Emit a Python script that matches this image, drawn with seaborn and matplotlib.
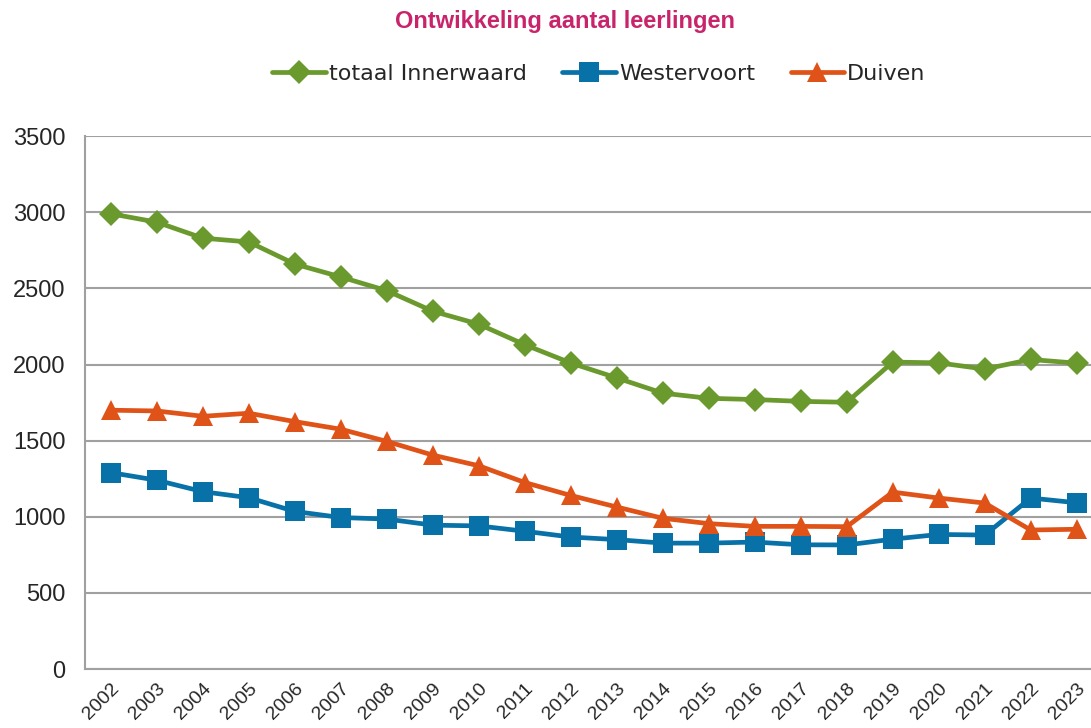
import pandas as pd
import seaborn as sns
import matplotlib.pyplot as plt

# Data
jaren = [str(j) for j in range(2002, 2024)]
innerwaard = [2990, 2935, 2830, 2805, 2660, 2575, 2485, 2350, 2265, 2130, 2010, 1912, 1812, 1778, 1770, 1758, 1752,
              2016, 2011, 1970, 2033, 2009]
westervoort = [1290, 1240, 1165, 1125, 1035, 995, 985, 945, 940, 905, 867, 850, 827, 827, 834, 816, 815,
               853, 884, 880, 1123, 1092]
duiven = [1700, 1695, 1660, 1680, 1625, 1575, 1495, 1405, 1335, 1225, 1140, 1064, 990, 955, 937, 937, 935,
          1162, 1123, 1090, 913, 918]

series = {"totaal Innerwaard": innerwaard, "Westervoort": westervoort, "Duiven": duiven}
rows = []
for naam, waarden in series.items():
    for i, v in enumerate(waarden):
        rows.append({"idx": i, "jaar": jaren[i], "aantal": v, "serie": naam})
df = pd.DataFrame(rows)

kleuren = {"totaal Innerwaard": "#6A9A2E", "Westervoort": "#0872A8", "Duiven": "#E05318"}
markers = {"totaal Innerwaard": "D", "Westervoort": "s", "Duiven": "^"}
sizes = {"totaal Innerwaard": 12, "Westervoort": 14, "Duiven": 15}

sns.set_style("white")
plt.rcParams["font.family"] = ["Liberation Sans", "DejaVu Sans"]

fig = plt.figure(figsize=(10.91, 7.28), dpi=100)
ax = fig.add_axes([0.078, 0.081, 0.93, 0.732])

for naam in series:
    sub = df[df["serie"] == naam]
    sns.lineplot(data=sub, x="idx", y="aantal", ax=ax, color=kleuren[naam], linewidth=3.4,
                 marker=markers[naam], markersize=sizes[naam], markeredgewidth=0, label=naam)

ax.set_ylim(0, 3500)
ax.set_yticks(range(0, 3501, 500))
ax.set_xlim(-0.56, len(jaren) - 0.56)
ax.set_xticks(range(len(jaren)))
ax.set_xticklabels(jaren, rotation=45, ha="right", rotation_mode="anchor", fontsize=14)
ax.set_xticks([i - 0.5 for i in range(len(jaren) + 1)], minor=True)
ax.tick_params(axis="x", which="major", length=0, pad=8)
ax.tick_params(axis="x", which="minor", length=6, color="#A0A0A0", width=1.2, direction="out")
ax.tick_params(axis="y", labelsize=17, length=0, pad=14)
ax.grid(axis="y", color="#A0A0A0", linewidth=1.5)
ax.set_axisbelow(True)
for s in ["top", "right"]:
    ax.spines[s].set_visible(False)
for s in ["left", "bottom"]:
    ax.spines[s].set_color("#A0A0A0")
    ax.spines[s].set_linewidth(1.5)
ax.set_xlabel("")
ax.set_ylabel("")

handles, labels = ax.get_legend_handles_labels()
ax.get_legend().remove()
fig.legend(handles, labels, loc="center", bbox_to_anchor=(0.549, 0.899), ncol=3, frameon=False,
           handlelength=2.4, handletextpad=0.15, columnspacing=1.6,
           prop={"family": ["DejaVu Sans"], "size": 16})

fig.text(0.518, 0.970, "Ontwikkeling aantal leerlingen", ha="center", va="center",
         fontsize=17, fontweight="bold", color="#C8246C")

fig.savefig("out.png", dpi=100)
